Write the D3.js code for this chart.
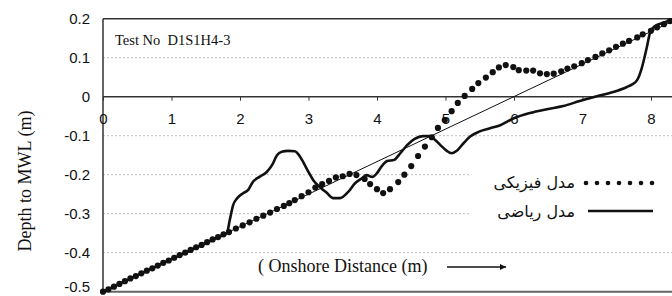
<!DOCTYPE html>
<html>
<head>
<meta charset="utf-8">
<script src="https://cdn.jsdelivr.net/npm/d3@7"></script>
<style>
  body { margin: 0; background: #fff; }
  svg { display: block; }
</style>
</head>
<body>
<div id="chart"></div>
<script>
const xTicks = [0, 1, 2, 3, 4, 5, 6, 7, 8];
const yTicks = [0.2, 0.1, 0, -0.1, -0.2, -0.3, -0.4, -0.5];

// physical model (dots)
const physX = [0, 0.08, 0.16, 0.24, 0.32, 0.40, 0.48, 0.56, 0.64, 0.72, 0.80, 0.88, 0.96, 1.04, 1.12, 1.20,
    1.28, 1.36, 1.44, 1.52, 1.60, 1.68, 1.76, 1.84, 1.94, 2.04, 2.14, 2.24, 2.34, 2.44, 2.54, 2.64, 2.72,
    2.80, 2.90, 3.00, 3.10, 3.20, 3.30, 3.40, 3.50, 3.60, 3.70, 3.82, 3.90, 4.00, 4.09, 4.19, 4.31, 4.40,
    4.50, 4.60, 4.70, 4.80, 4.89, 4.99, 5.09, 5.18, 5.28, 5.39, 5.48, 5.59, 5.69, 5.78, 5.88, 5.99, 6.07,
    6.18, 6.28, 6.38, 6.48, 6.58, 6.69, 6.78, 6.88, 6.99, 7.08, 7.19, 7.29, 7.39, 7.49, 7.59, 7.68, 7.80,
    7.88, 8.00, 8.09, 8.19, 8.28];
const physY = [-0.500, -0.494, -0.487, -0.480, -0.473, -0.466, -0.460, -0.453, -0.446, -0.440, -0.433, -0.426,
    -0.420, -0.413, -0.406, -0.400, -0.393, -0.386, -0.380, -0.373, -0.366, -0.360, -0.353, -0.347, -0.338,
    -0.330, -0.322, -0.313, -0.305, -0.297, -0.288, -0.280, -0.273, -0.265, -0.255, -0.245, -0.233, -0.224,
    -0.216, -0.207, -0.204, -0.198, -0.201, -0.211, -0.224, -0.237, -0.247, -0.237, -0.219, -0.200, -0.178,
    -0.152, -0.128, -0.104, -0.080, -0.060, -0.037, -0.016, 0.002, 0.020, 0.035, 0.049, 0.063, 0.075, 0.081,
    0.076, 0.068, 0.067, 0.067, 0.060, 0.058, 0.059, 0.065, 0.072, 0.078, 0.086, 0.094, 0.102, 0.111, 0.119,
    0.128, 0.136, 0.143, 0.152, 0.160, 0.169, 0.178, 0.186, 0.194];

// mathematical model (solid)
const mathX = [0, 0.6, 1.2, 1.6, 1.76, 1.81, 1.85, 1.90, 1.96, 2.04, 2.12, 2.19, 2.29, 2.39, 2.47, 2.54, 2.61,
    2.70, 2.80, 2.87, 2.93, 3.00, 3.07, 3.17, 3.27, 3.36, 3.46, 3.58, 3.68, 3.78, 3.85, 3.93, 4.00, 4.07, 4.15,
    4.25, 4.34, 4.44, 4.55, 4.67, 4.77, 4.85, 4.95, 5.02, 5.09, 5.17, 5.26, 5.36, 5.50, 5.65, 5.80, 5.99, 6.23,
    6.48, 6.72, 6.96, 7.21, 7.45, 7.65, 7.72, 7.80, 7.87, 7.94, 7.99, 8.06, 8.19, 8.30];
const mathY = [-0.500, -0.450, -0.400, -0.367, -0.354, -0.349, -0.317, -0.278, -0.260, -0.248, -0.239, -0.218,
    -0.205, -0.193, -0.175, -0.150, -0.141, -0.139, -0.140, -0.152, -0.170, -0.193, -0.214, -0.232, -0.247,
    -0.260, -0.260, -0.244, -0.222, -0.209, -0.201, -0.206, -0.196, -0.178, -0.165, -0.162, -0.145, -0.124,
    -0.108, -0.101, -0.101, -0.111, -0.128, -0.139, -0.145, -0.138, -0.120, -0.102, -0.089, -0.081, -0.073,
    -0.056, -0.042, -0.032, -0.024, -0.011, 0.001, 0.012, 0.025, 0.031, 0.043, 0.076, 0.127, 0.166, 0.181,
    0.190, 0.198];

// initial profile (thin line)
const initX = [0, 8.3];
const initY = [-0.5, 0.192];

const legendLabels = ['مدل فیزیکی', 'مدل ریاضی'];

const W = 672, H = 296;
const svg = d3.select('#chart').append('svg')
    .attr('width', W)
    .attr('height', H);

const x = d3.scaleLinear().domain([0, 8.3]).range([103, 671.5]);
const y = d3.scaleLinear().domain([-0.5, 0.2]).range([291.7, 18.7]);

// dotted gridlines
svg.append('g')
    .selectAll('line')
    .data(yTicks.filter(d => d !== 0.2 && d !== 0 && d !== -0.5))
    .enter()
    .append('line')
    .attr('x1', x(0)).attr('x2', W)
    .attr('y1', d => y(d)).attr('y2', d => y(d))
    .attr('stroke', '#bdbdbd')
    .attr('stroke-width', 1)
    .attr('stroke-dasharray', '2,2');

// frame
svg.append('line')
    .attr('x1', x(0)).attr('x2', W).attr('y1', y(0.2)).attr('y2', y(0.2))
    .attr('stroke', '#333').attr('stroke-width', 1.5);
svg.append('line')
    .attr('x1', x(0)).attr('x2', W).attr('y1', y(-0.5)).attr('y2', y(-0.5))
    .attr('stroke', '#666').attr('stroke-width', 2);
svg.append('line')
    .attr('x1', x(0)).attr('x2', x(0)).attr('y1', y(0.2)).attr('y2', y(-0.5))
    .attr('stroke', '#333').attr('stroke-width', 1.5);

// x axis on the zero line
const xAxis = svg.append('g')
    .attr('transform', `translate(0, ${y(0)})`)
    .call(d3.axisBottom(x).tickValues(xTicks).tickSize(4).tickPadding(13).tickFormat(d3.format('d')));
xAxis.select('.domain').attr('stroke', '#333').attr('stroke-width', 1.5).attr('d', `M${x(0)},0H${W}`);
xAxis.selectAll('.tick line').attr('stroke', '#333');
xAxis.selectAll('text')
    .style('font-family', 'Liberation Sans, Arial, sans-serif')
    .style('font-size', '15px')
    .attr('fill', '#111');

// y axis labels (plain hyphen for minus, like the original)
const yFmt = d => d3.format('.1~f')(d).replace('\u2212', '-');
const yAxis = svg.append('g')
    .attr('transform', `translate(${x(0)}, 0)`)
    .call(d3.axisLeft(y).tickValues(yTicks).tickSize(0).tickPadding(13).tickFormat(yFmt));
yAxis.select('.domain').remove();
yAxis.selectAll('text')
    .style('font-family', 'Liberation Sans, Arial, sans-serif')
    .style('font-size', '15px')
    .attr('fill', '#111');
yAxis.selectAll('.tick').filter(d => d === -0.5).select('text').attr('dy', '0em');

// legend background
const legend = svg.append('g').attr('transform', 'translate(470, 160)');
legend.append('rect')
    .attr('width', 202).attr('height', 74)
    .attr('fill', '#fff');

// thin initial profile
const line = d3.line().x(d => x(d[0])).y(d => y(d[1]));
svg.append('path')
    .datum(initX.map((v, i) => [v, initY[i]]))
    .attr('d', line)
    .attr('fill', 'none')
    .attr('stroke', '#111')
    .attr('stroke-width', 1);

// mathematical model
const smooth = d3.line().x(d => x(d[0])).y(d => y(d[1])).curve(d3.curveMonotoneX);
svg.append('path')
    .datum(mathX.map((v, i) => [v, mathY[i]]))
    .attr('d', smooth)
    .attr('fill', 'none')
    .attr('stroke', '#111')
    .attr('stroke-width', 2.6)
    .attr('stroke-linejoin', 'round');

// physical model dots
svg.append('g')
    .selectAll('circle')
    .data(physX.map((v, i) => [v, physY[i]]))
    .enter()
    .append('circle')
    .attr('cx', d => x(d[0]))
    .attr('cy', d => y(d[1]))
    .attr('r', 3.1)
    .attr('fill', '#111');

// legend items
const legDots = [0, 1, 2, 3, 4, 5, 6];
legend.selectAll('.ldot')
    .data(legDots)
    .enter()
    .append('circle')
    .attr('class', 'ldot')
    .attr('cx', d => 116 + d * 11)
    .attr('cy', 23)
    .attr('r', 2.3)
    .attr('fill', '#111');
legend.append('line')
    .attr('x1', 118).attr('x2', 183)
    .attr('y1', 51).attr('y2', 51)
    .attr('stroke', '#111').attr('stroke-width', 2.5);
legend.selectAll('.ltext')
    .data(legendLabels)
    .enter()
    .append('text')
    .attr('class', 'ltext')
    .attr('x', 105)
    .attr('y', (d, i) => 28 + i * 29)
    .attr('text-anchor', 'end')
    .style('font-family', 'DejaVu Serif, DejaVu Sans, serif')
    .style('font-size', '16px')
    .attr('fill', '#111')
    .text(d => d);

// texts
svg.append('text')
    .attr('x', 115).attr('y', 45)
    .style('font-family', 'Liberation Serif, Times New Roman, serif')
    .style('font-size', '14.5px')
    .style('white-space', 'pre')
    .attr('fill', '#111')
    .text('Test No\u00a0 D1S1H4-3');

svg.append('text')
    .attr('transform', 'translate(31, 181) rotate(-90)')
    .attr('text-anchor', 'middle')
    .style('font-family', 'Liberation Serif, Times New Roman, serif')
    .style('font-size', '18px')
    .attr('fill', '#111')
    .text('Depth to MWL (m)');

svg.append('text')
    .attr('x', 258).attr('y', 272)
    .style('font-family', 'Liberation Serif, Times New Roman, serif')
    .style('font-size', '18px')
    .attr('fill', '#111')
    .text('( Onshore Distance (m)');

svg.append('defs').append('marker')
    .attr('id', 'arrow')
    .attr('viewBox', '0 0 10 10')
    .attr('refX', 10).attr('refY', 5)
    .attr('markerWidth', 8).attr('markerHeight', 6)
    .attr('markerUnits', 'userSpaceOnUse')
    .attr('orient', 'auto')
    .append('path')
    .attr('d', 'M0,0L10,5L0,10Z')
    .attr('fill', '#111');
svg.append('line')
    .attr('x1', 447).attr('x2', 506)
    .attr('y1', 267).attr('y2', 267)
    .attr('stroke', '#111').attr('stroke-width', 1.5)
    .attr('marker-end', 'url(#arrow)');
</script>
</body>
</html>
